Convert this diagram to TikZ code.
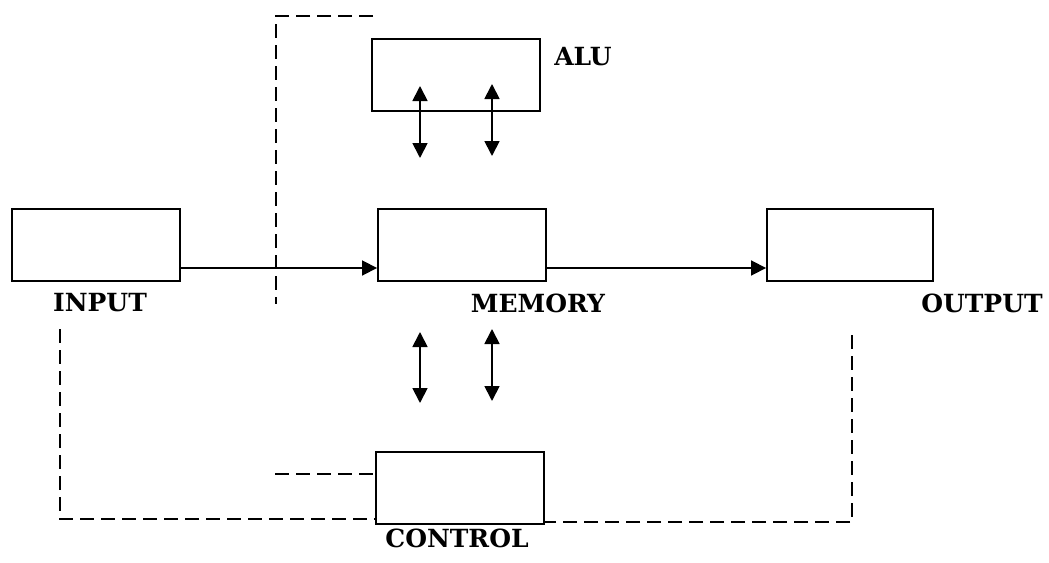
\documentclass[tikz,border=0pt]{standalone}
\usepackage{fontspec}
\newfontfamily\lblfont{DejaVu Serif}
\usetikzlibrary{arrows.meta}
\begin{document}
\begin{tikzpicture}[x=1pt,y=-1pt,
  box/.style={draw,line width=1.9pt,minimum width=168pt,minimum height=72pt,inner sep=0pt},
  lbl/.style={font=\lblfont\fontsize{25}{30}\selectfont\bfseries,inner sep=0pt},
  flow/.style={line width=1.8pt,-{Triangle[length=15pt,width=15pt]}},
  dbl/.style={line width=1.8pt,{Triangle[length=15pt,width=15pt]}-{Triangle[length=15pt,width=15pt]}},
  ctl/.style={line width=1.9pt,dash pattern=on 14pt off 7pt}]
\useasboundingbox (0,0) rectangle (1049,562);
\node[box] (alu) at (456,75) {};
\node[box] (in) at (96,245) {};
\node[box] (mem) at (462,245) {};
\node[box,minimum width=166pt] (out) at (850,245) {};
\node[box] (ctrl) at (460,488) {};
\node[lbl] (alul) at (583,57) {ALU};
\node[lbl] (inl) at (100,303) {INPUT};
\node[lbl] (meml) at (538,303) {MEMORY};
\node[lbl] (outl) at (982,303) {OUTPUT};
\node[lbl] (ctrll) at (457,538) {CONTROL};
% data flow
\draw[flow] (in.east |- 0,268) -- (mem.west |- 0,268);
\draw[flow] (mem.east |- 0,268) -- (out.west |- 0,268);
% ALU <-> memory
\coordinate (a1t) at (420,86); \coordinate (a1b) at (420,158);
\coordinate (a2t) at (492,84); \coordinate (a2b) at (492,156);
\draw[dbl] (a1t) -- (a1b);
\draw[dbl] (a2t) -- (a2b);
% memory <-> control
\coordinate (c1t) at (420,332); \coordinate (c1b) at (420,403);
\coordinate (c2t) at (492,329); \coordinate (c2b) at (492,401);
\draw[dbl] (c1t) -- (c1b);
\draw[dbl] (c2t) -- (c2b);
% control lines
\coordinate (p1) at (373,16); \coordinate (p2) at (276,16); \coordinate (p3) at (276,304);
\draw[ctl] (p1) -- (p2) -- (p3);
\coordinate (q1) at (60,329); \coordinate (q2) at (60,519);
\draw[ctl] (q1) -- (q2) -- (ctrl.west |- q2);
\coordinate (r1) at (275,474);
\draw[ctl] (r1) -- (ctrl.west |- r1);
\coordinate (s1) at (852,335); \coordinate (s2) at (852,522);
\draw[ctl] (s1) -- (s2) -- (ctrl.east |- s2);
\end{tikzpicture}
\end{document}
